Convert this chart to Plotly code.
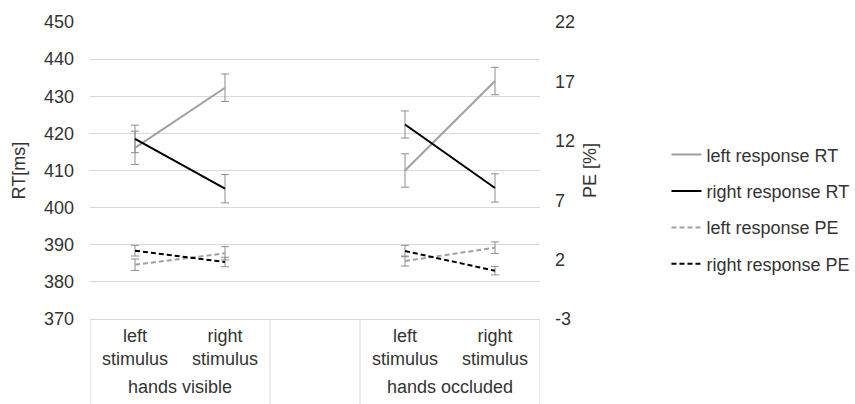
import plotly.graph_objects as go

# ---- data ----
stimulus_labels = ["left<br>stimulus", "right<br>stimulus", "left<br>stimulus", "right<br>stimulus"]
group_labels = ["hands visible", "hands occluded"]

left_rt = [416.1, 432.3, 410.0, 434.1]
left_rt_err = [4.5, 3.7, 4.5, 3.7]
right_rt = [418.5, 405.1, 422.4, 405.3]
right_rt_err = [3.7, 3.8, 3.65, 3.8]
left_pe = [1.57, 2.53, 1.88, 3.0]
left_pe_err = [0.48, 0.56, 0.42, 0.49]
right_pe = [2.75, 1.8, 2.72, 1.06]
right_pe_err = [0.45, 0.4, 0.48, 0.35]

rt_ticks = [370, 380, 390, 400, 410, 420, 430, 440, 450]
pe_ticks = [-3, 2, 7, 12, 17, 22]
pe_tick_text = ["-3", "2", "7", "12", "17", "22"]

# slot positions: two per group, one empty slot between groups
x_pos = [0, 1, 3, 4]


def with_gap(vals):
    # insert a gap between the two groups so lines are not connected
    return vals[:2] + [None] + vals[2:]


xs = [0, 1, 2, 3, 4]

GRAY = "#a0a0a0"
BLACK = "#000000"
ERR = "#8e8e8e"
FONT = "Liberation Sans, Arial, sans-serif"
TXT = "#333333"
FS = 18

series = [
    ("left response RT", left_rt, left_rt_err, GRAY, "solid", "y"),
    ("right response RT", right_rt, right_rt_err, BLACK, "solid", "y"),
    ("left response PE", left_pe, left_pe_err, GRAY, "5px,3px", "y2"),
    ("right response PE", right_pe, right_pe_err, BLACK, "5px,3px", "y2"),
]

fig = go.Figure()
for i, (name, vals, errs, col, dash, yax) in enumerate(series):
    fig.add_trace(go.Scatter(
        x=xs, y=with_gap(vals), name=name, mode="lines", yaxis=yax,
        line=dict(color=col, width=2, dash=dash),
        connectgaps=False, legendgroup=name,
        error_y=dict(type="data", array=with_gap(errs), visible=True,
                     color=ERR, thickness=1, width=4),
    ))

divider_x = [-0.5, 1.5, 2.5, 4.5]
shapes = []
for dx in divider_x:
    shapes.append(dict(type="line", xref="x", yref="paper", x0=dx, x1=dx,
                       y0=0, y1=-0.3, line=dict(color="#d9d9d9", width=1)))

annotations = []
group_centers = [0.5, 3.5]
for gc, gl in zip(group_centers, group_labels):
    annotations.append(dict(text=gl, x=gc, xref="x", y=-0.23, yref="paper",
                            yanchor="middle", showarrow=False,
                            font=dict(size=FS, color=TXT, family=FONT)))
annotations.append(dict(text="RT[ms]", x=-0.16, xref="paper", y=0.5, yref="paper",
                        xanchor="center", yanchor="middle",
                        textangle=-90, showarrow=False,
                        font=dict(size=FS, color=TXT, family=FONT)))
annotations.append(dict(text="PE [%]", x=1.11, xref="paper", y=0.5, yref="paper",
                        xanchor="center", yanchor="middle",
                        textangle=-90, showarrow=False,
                        font=dict(size=FS, color=TXT, family=FONT)))

fig.update_layout(
    width=855, height=404,
    margin=dict(l=90, r=315, t=22, b=85, autoexpand=False),
    paper_bgcolor="white", plot_bgcolor="white",
    font=dict(family=FONT, size=FS, color=TXT),
    showlegend=True,
    legend=dict(x=1.281, y=0.369, xanchor="left", yanchor="middle",
                tracegroupgap=10, font=dict(size=FS, color=TXT, family=FONT),
                bgcolor="rgba(0,0,0,0)"),
    xaxis=dict(range=[-0.5, 4.5], tickvals=x_pos, ticktext=stimulus_labels,
               showgrid=False, zeroline=False, showline=True, linecolor="#d9d9d9",
               ticks="", tickfont=dict(size=FS, color=TXT, family=FONT)),
    yaxis=dict(range=[370, 450], tickvals=rt_ticks, showgrid=True, gridcolor="#d9d9d9",
               zeroline=False, showline=False, ticks="", ticklabelstandoff=15,
               tickfont=dict(size=FS, color=TXT, family=FONT)),
    yaxis2=dict(range=[-3, 22], tickvals=pe_ticks, ticktext=pe_tick_text,
                overlaying="y", side="right",
                showgrid=False, zeroline=False, showline=False, ticks="",
                ticklabelstandoff=14,
                tickfont=dict(size=FS, color=TXT, family=FONT)),
    shapes=shapes, annotations=annotations,
)

fig.write_html("out.html")
